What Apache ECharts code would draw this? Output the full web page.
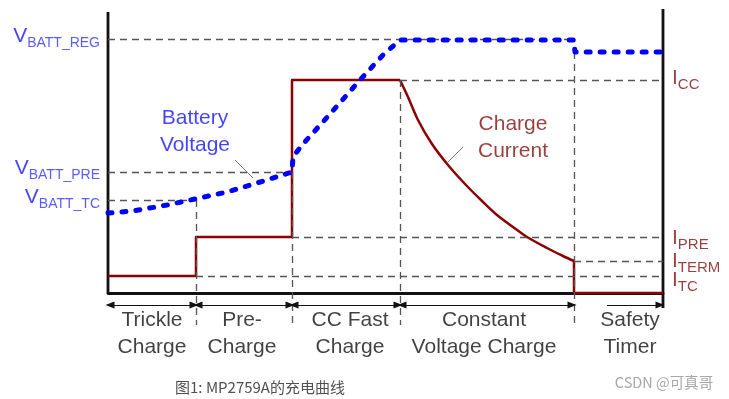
<!DOCTYPE html>
<html>
<head>
<meta charset="utf-8">
<script src="https://cdn.jsdelivr.net/npm/echarts@6/dist/echarts.min.js"></script>
<style>
  html, body { margin: 0; padding: 0; background: #fff; }
  #chart { width: 729px; height: 399px; }
</style>
</head>
<body>
<div id="chart"></div>
<script>
// x = distance from the left axis, y = height above the time axis
const phaseEdges = [0, 88, 184, 292, 466, 555]
const phaseNames = ['Trickle\nCharge', 'Pre-\nCharge', 'CC Fast\nCharge', 'Constant\nVoltage Charge', 'Safety\nTimer']
const phaseLabelX = [44, 134, 242, 376, 522]

// battery voltage (blue dotted)
const voltX = [0, 25, 59, 87, 119, 149, 184, 185, 194, 205, 230, 252, 275, 292, 466, 467, 555]
const voltY = [80, 82, 88, 94, 101, 110, 121, 136, 148, 160, 188, 213, 238, 253, 253, 241, 241]

// charge current (dark red): steps, then the constant-voltage decay
const stepX = [0, 88, 88, 184, 184, 292]
const stepY = [17, 17, 56, 56, 213, 213]
const decayX = [292, 300, 310, 324, 340, 357, 374, 389, 405, 419, 439, 455, 466]
const decayY = [213, 196, 173, 149, 128, 109, 92, 78, 66, 56, 45, 37, 32]
const endX = [466, 466, 555]
const endY = [32, 0, 0]

const vLevelNames = ['BATT_REG', 'BATT_PRE', 'BATT_TC']
const vLevels = [254, 121, 93]
const iLevelNames = ['CC', 'PRE', 'TERM', 'TC']
const iLevels = [213, 56, 32, 17]
const voltAfterTimer = 241

const blue = '#0000ff'
const textBlue = '#1414ff'
const subBlue = '#3232ff'
const red = '#8b0000'
const textRed = '#820f0f'
const font = "'Liberation Sans', Arial, sans-serif"

let chart = echarts.init(document.getElementById('chart'))

// dashed reference lines
const refLines = [
  [[0, vLevels[0]], [phaseEdges[4], vLevels[0]]],
  [[0, vLevels[1]], [phaseEdges[2], vLevels[1]]],
  [[0, vLevels[2]], [phaseEdges[1], vLevels[2]]],
  [[phaseEdges[3], iLevels[0]], [phaseEdges[5], iLevels[0]]],
  [[phaseEdges[2], iLevels[1]], [phaseEdges[5], iLevels[1]]],
  [[phaseEdges[4], iLevels[2]], [phaseEdges[5], iLevels[2]]],
  [[phaseEdges[1], iLevels[3]], [phaseEdges[5], iLevels[3]]],
  [[phaseEdges[1], vLevels[2]], [phaseEdges[1], -32]],
  [[phaseEdges[2], vLevels[1]], [phaseEdges[2], -32]],
  [[phaseEdges[3], iLevels[0]], [phaseEdges[3], -32]],
  [[phaseEdges[4], voltAfterTimer], [phaseEdges[4], -32]]
]

// arrows under the time axis
const arrowY = -12
let arrows = []
for (let i = 0; i < 4; i++) {
  arrows.push({
    symbol: ['triangle', 'triangle'],
    coords: [[phaseEdges[i] + 2, arrowY], [phaseEdges[i + 1] - 2, arrowY]]
  })
}
arrows.push({ symbol: ['none', 'triangle'], coords: [[499, arrowY], [phaseEdges[5] - 3, arrowY]] })

const vOffsets = [-3, -4, -3]
const iOffsets = [-2, 1, 0, 4]

const toPts = (xs, ys) => xs.map((x, i) => [x, ys[i]])

let option = {
  animation: false,
  grid: { left: 108, right: 66, top: 12, bottom: 61 },
  xAxis: {
    type: 'value', min: 0, max: 555,
    axisLine: { show: true, onZero: true, lineStyle: { color: '#111', width: 2.8 } },
    axisTick: { show: false }, axisLabel: { show: false }, splitLine: { show: false }
  },
  yAxis: {
    type: 'value', min: -45, max: 281,
    axisLine: { show: false },
    axisTick: { show: false }, axisLabel: { show: false }, splitLine: { show: false }
  },
  graphic: [
    {
      type: 'text', x: 260, y: 387,
      style: { text: '图1: MP2759A的充电曲线', fill: '#505050', fontSize: 15,
        fontFamily: "'Noto Sans CJK SC', sans-serif", align: 'center', verticalAlign: 'middle' }
    },
    {
      type: 'text', x: 664, y: 382,
      style: { text: 'CSDN @可真哥', fill: '#a8a8a8', fontSize: 14.5,
        fontFamily: "'Noto Sans CJK SC', sans-serif", align: 'center', verticalAlign: 'middle' }
    }
  ],
  series: [
    {
      // reference lines
      type: 'line', data: [], clip: false, silent: true,
      markLine: {
        silent: true, symbol: 'none', animation: false,
        label: { show: false },
        lineStyle: { color: '#555', width: 1.3, type: [7, 5] },
        data: refLines.map(seg => [{ coord: seg[0] }, { coord: seg[1] }])
      }
    },
    {
      // phase arrows
      type: 'line', data: [], clip: false, silent: true,
      markLine: {
        silent: true, animation: false, symbolSize: [7, 9],
        label: { show: false },
        lineStyle: { color: '#111', width: 1, type: 'solid' },
        data: arrows.map(a => [
          { coord: a.coords[0], symbol: a.symbol[0] },
          { coord: a.coords[1], symbol: a.symbol[1] }
        ])
      }
    },
    {
      // left and right frame lines
      type: 'line', clip: false, silent: true, symbol: 'none', connectNulls: false,
      data: [[0, 0], [0, 281], null, [555, 284], [555, -15]],
      lineStyle: { color: '#111', width: 2.8 }
    },
    {
      // leader lines
      type: 'line', clip: false, silent: true, symbol: 'none',
      data: [[127, 133], [145, 115], null, [355, 146], [340, 131]],
      connectNulls: false,
      lineStyle: { color: '#777', width: 1 }
    },
    {
      name: 'Charge Current', type: 'line', clip: false, symbol: 'none', z: 4,
      data: toPts(stepX, stepY),
      lineStyle: { color: red, width: 2.5, join: 'round' }
    },
    {
      name: 'Charge Current', type: 'line', clip: false, symbol: 'none', z: 4,
      data: toPts(decayX, decayY), smooth: 0.3,
      lineStyle: { color: red, width: 2.5, join: 'round' }
    },
    {
      name: 'Charge Current', type: 'line', clip: false, symbol: 'none', z: 4,
      data: toPts(endX, endY),
      lineStyle: { color: red, width: 2.5, join: 'round' }
    },
    {
      name: 'Battery Voltage', type: 'line', clip: false, symbol: 'none', z: 5,
      data: toPts(voltX, voltY),
      lineStyle: { color: blue, width: 5, type: [4, 10], cap: 'round', join: 'round' }
    },
    {
      // voltage level labels
      type: 'scatter', symbolSize: 0, silent: true, clip: false,
      data: vLevels.map((v, i) => ({
        value: [0, v], name: vLevelNames[i],
        label: { offset: [0, vOffsets[i]] }
      })),
      label: {
        show: true, position: 'left', distance: 8,
        formatter: p => '{v|V}{s|' + p.name + '}',
        rich: {
          v: { fontSize: 21, lineHeight: 28, color: textBlue, fontFamily: font },
          s: { fontSize: 14, lineHeight: 14, color: subBlue, fontFamily: font, verticalAlign: 'bottom' }
        }
      }
    },
    {
      // current level labels
      type: 'scatter', symbolSize: 0, silent: true, clip: false,
      data: iLevels.map((v, i) => ({
        value: [555, v], name: iLevelNames[i],
        label: { offset: [0, iOffsets[i]] }
      })),
      label: {
        show: true, position: 'right', distance: 9,
        formatter: p => '{i|I}{s|' + p.name + '}',
        rich: {
          i: { fontSize: 21, lineHeight: 28, color: textRed, fontFamily: font },
          s: { fontSize: 15, lineHeight: 14, color: textRed, fontFamily: font, verticalAlign: 'bottom' }
        }
      }
    },
    {
      // phase names
      type: 'scatter', symbolSize: 0, silent: true, clip: false,
      data: phaseNames.map((n, i) => ({ value: [phaseLabelX[i], -41], name: n })),
      label: {
        show: true, position: 'inside', formatter: p => p.name,
        fontSize: 21, lineHeight: 27, color: '#111', fontFamily: font, align: 'center'
      }
    },
    {
      // curve names
      type: 'scatter', symbolSize: 0, silent: true, clip: false,
      data: [
        { value: [87, 161], name: 'Battery\nVoltage', label: { color: textBlue } },
        { value: [405, 155], name: 'Charge\nCurrent', label: { color: textRed } }
      ],
      label: {
        show: true, position: 'inside', formatter: p => p.name,
        fontSize: 21, lineHeight: 27, fontFamily: font, align: 'center'
      }
    }
  ]
}

option && chart.setOption(option)
</script>
</body>
</html>
